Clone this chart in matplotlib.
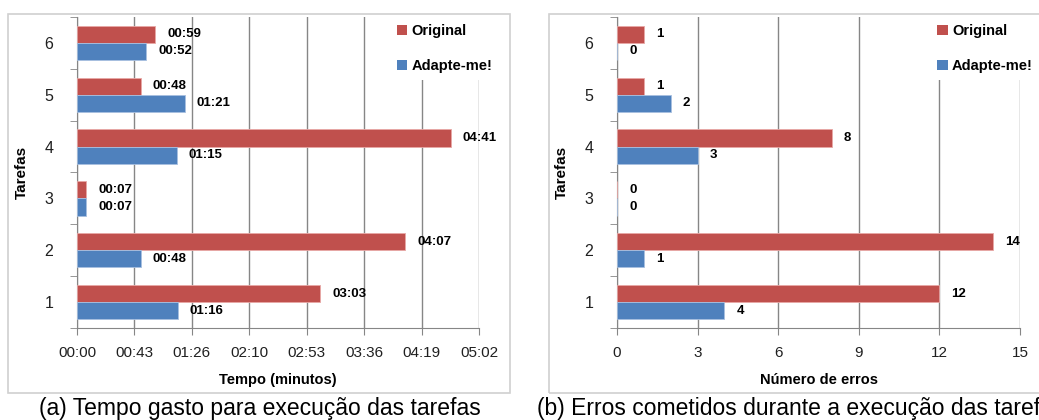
import matplotlib
matplotlib.use("Agg")
import matplotlib.pyplot as plt
from matplotlib import font_manager
from matplotlib.patches import Rectangle, Patch
import numpy as np

# ---- data ----
tasks = [1, 2, 3, 4, 5, 6]
time_original = [183, 247, 7, 281, 48, 59]      # seconds
time_adapte = [76, 48, 7, 75, 81, 52]           # seconds
err_original = [12, 14, 0, 8, 1, 1]
err_adapte = [4, 1, 0, 3, 2, 0]
time_ticks = [0, 43.2, 86.4, 129.6, 172.8, 216.0, 259.2, 302.4]
err_ticks = [0, 3, 6, 9, 12, 15]
series_names = ["Original", "Adapte-me!"]
caption_a = "(a) Tempo gasto para execução das tarefas"
caption_b = "(b) Erros cometidos durante a execução das tarefas"

names = {f.name for f in font_manager.fontManager.ttflist}
narrow = "Liberation Sans Narrow" if "Liberation Sans Narrow" in names else "Liberation Sans"
plt.rcParams["font.family"] = [narrow, "DejaVu Sans"]

RED = "#C0504D"
BLUE = "#4F81BD"
GRID = "#868686"

W, H = 1039, 420
fig = plt.figure(figsize=(W / 100, H / 100), dpi=100)

def fx(px):
    return px / W

def fy(py):
    return 1 - py / H

# outer frames
for (x0, x1) in [(8, 510), (549, 1045)]:
    fig.patches.append(Rectangle((fx(x0), fy(393)), fx(x1 - x0), (393 - 14) / H,
                                 transform=fig.transFigure, fill=False,
                                 edgecolor="#D0D0D0", linewidth=1.2, zorder=0))

def fmt_time(s):
    s = int(round(s))
    return f"{s // 60:02d}:{s % 60:02d}"

def draw(ax, orig, adap, ticks, xmax, labfmt, tickfmt, xlabel, label_dx):
    y = np.array(tasks, dtype=float)
    h = 0.33
    ax.barh(y + h / 2, orig, height=h, color=RED, edgecolor="#E8A8A6", linewidth=0.6, zorder=3)
    ax.barh(y - h / 2, adap, height=h, color=BLUE, edgecolor="#A8C0E0", linewidth=0.6, zorder=3)
    for yi, v in zip(y, orig):
        ax.text(v + label_dx, yi + h / 2, labfmt(v), va="center", ha="left",
                fontsize=9.5, fontweight="bold", color="black", zorder=4)
    for yi, v in zip(y, adap):
        ax.text(v + label_dx, yi - h / 2, labfmt(v), va="center", ha="left",
                fontsize=9.5, fontweight="bold", color="black", zorder=4)
    ax.set_xlim(0, xmax)
    ax.set_ylim(0.5, 6.5)
    ax.set_xticks(ticks)
    ax.set_xticklabels([tickfmt(t) for t in ticks], fontsize=11, color="#202020")
    ax.set_yticks(tasks)
    ax.set_yticklabels([str(t) for t in tasks], fontsize=11.5, color="#202020")
    ax.set_yticks(np.arange(0.5, 7.0, 1.0), minor=True)
    ax.tick_params(axis="y", which="major", length=0, pad=17)
    ax.tick_params(axis="y", which="minor", length=5, color=GRID, direction="out")
    ax.tick_params(axis="x", which="major", length=5, color=GRID, direction="out", pad=8)
    ax.grid(axis="x", color=GRID, linewidth=1.0, zorder=1)
    for s in ["top", "right"]:
        ax.spines[s].set_visible(False)
    ax.spines["left"].set_color(GRID)
    ax.spines["bottom"].set_color(GRID)
    ax.set_axisbelow(True)
    ax.set_xlabel(xlabel, fontsize=10.5, fontweight="bold", labelpad=9)
    ax.set_ylabel("Tarefas", fontsize=11, fontweight="bold", labelpad=11)
    handles = [Patch(facecolor=RED, edgecolor="none"), Patch(facecolor=BLUE, edgecolor="none")]
    leg = ax.legend(handles, series_names, loc="upper left", bbox_to_anchor=(0.777, 1.0),
                    frameon=True, fancybox=False, edgecolor="none", facecolor="white",
                    framealpha=1, prop={"weight": "bold", "size": 10.5},
                    handlelength=0.7, handleheight=0.7, handletextpad=0.3,
                    labelspacing=1.4, borderpad=0.5, borderaxespad=0.0)
    leg.set_zorder(5)

axL = fig.add_axes([fx(77), fy(328), fx(479 - 77), (328 - 17) / H])
draw(axL, time_original, time_adapte, time_ticks, 302.4, fmt_time, fmt_time,
     "Tempo (minutos)", 9)

axR = fig.add_axes([fx(617), fy(328), fx(1020 - 617), (328 - 17) / H])
draw(axR, err_original, err_adapte, err_ticks, 15, lambda v: f"{int(v)}",
     lambda t: f"{int(t)}", "Número de erros", 0.45)

fig.text(fx(260), fy(408), caption_a, ha="center", va="center", fontsize=16.5,
         family=["Liberation Sans", "DejaVu Sans"])
fig.text(fx(537), fy(408), caption_b, ha="left", va="center", fontsize=16.5,
         family=["Liberation Sans", "DejaVu Sans"])

fig.savefig("out.png", dpi=100)
